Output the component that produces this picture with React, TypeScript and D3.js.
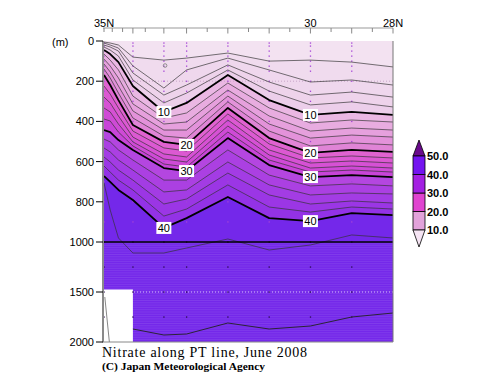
import React from "react";
import * as d3 from "d3";

// Station latitudes (°N) at which isoline depths were read
const stationLats = [35, 34.85, 34.65, 34.3, 33.55, 33, 32, 31, 30, 29, 28];

// Depth (m) of each nitrate isoline (µmol/kg) at the stations
const iso02 = [5, 10, 20, 80, 95, 85, 60, 100, 95, 105, 129];
const iso04 = [10, 20, 35, 124, 234, 144, 85, 144, 204, 194, 219];
const iso06 = [20, 30, 50, 159, 269, 219, 119, 204, 269, 254, 279];
const iso08 = [30, 45, 75, 194, 308, 259, 144, 249, 318, 303, 328];
const iso10 = [45, 65, 105, 224, 353, 308, 169, 294, 368, 353, 368];
const iso12 = [65, 95, 144, 274, 383, 358, 209, 333, 408, 393, 403];
const iso14 = [90, 124, 184, 313, 413, 403, 244, 373, 448, 433, 443];
const iso16 = [114, 154, 224, 348, 443, 443, 274, 413, 483, 468, 478];
const iso18 = [139, 184, 259, 383, 473, 483, 303, 448, 522, 507, 517];
const iso20 = [169, 219, 294, 418, 502, 517, 333, 483, 557, 542, 552];
const iso22 = [224, 264, 333, 448, 532, 547, 363, 512, 582, 572, 582];
const iso24 = [279, 308, 373, 478, 562, 577, 393, 542, 607, 597, 607];
const iso26 = [333, 353, 413, 502, 587, 602, 423, 567, 632, 622, 632];
const iso28 = [388, 398, 453, 522, 612, 627, 453, 592, 652, 642, 652];
const iso30 = [443, 453, 493, 542, 632, 647, 483, 617, 677, 667, 677];
const iso32 = [488, 502, 542, 592, 692, 692, 542, 667, 721, 711, 721];
const iso34 = [532, 552, 592, 642, 751, 741, 602, 716, 766, 756, 761];
const iso36 = [577, 602, 642, 692, 811, 786, 657, 766, 811, 796, 806];
const iso38 = [622, 652, 692, 741, 871, 836, 716, 826, 851, 826, 836];
const iso40 = [672, 701, 741, 791, 930, 881, 776, 881, 896, 856, 866];
const iso42 = [706, 841, 980, 1110, 1110, 1060, 985, 1080, 1030, 965, 980];

// Deep isoline (below 1000 m)
const deepLats = [34.3, 33.55, 33, 32, 31, 30, 29, 28];
const deepDepths = [1870, 1930, 1920, 1810, 1870, 1840, 1750, 1710];

// No-data area and the grey line inside it
const maskLats = [35, 34.3];
const maskDepths = [1475, 2000];
const maskLineLats = [34.98, 34.87];
const maskLineDepths = [1550, 2000];

// small closed contour
const localMinLat = 33.52;
const localMinDepth = 122;

// axis ticks
const latTicksMajor = [34.3, 33.55, 33, 32, 31, 30, 29, 28];
const latTicksMinor = [35, 34.8, 34.55, 34, 32.5, 31.5, 30.5, 29.5, 28.5];
const latLabelValues = [35, 30, 28];
const latLabelTexts = ["35N", "30", "28N"];
const depthTicks = [0, 200, 400, 600, 800, 1000, 1500, 2000];

// legend
const legendLevels = [10, 20, 30, 40, 50];
const legendColors = ["#e2a2da", "#e044d0", "#a420e2", "#7414f0"];
const legendLowColor = "#f5e4f3";
const legendHighColor = "#6a0a8c";

// sampling points
const sampleLats = [35, 34.3, 33.55, 33, 32, 31, 30, 29];
const sampleDepths = [10, 25, 50, 75, 100, 125, 150, 200, 250, 300, 400, 500, 600, 700, 800, 900, 1000, 1250, 1500, 1750];

// contour labels
const labelLevels = [10, 10, 20, 20, 30, 30, 40, 40];
const labelLats = [33.55, 30, 33, 30, 33, 30, 33.55, 30];

// fill colour of each 2-unit band (0-2, 2-4, ... 40-42, 42+)
const bandFill = [
  "#f3e2f1", "#f0dbee", "#efd7ed", "#eed3eb", "#ecceea",
  "#eab7e3", "#e8ace0", "#e6a0dd", "#e392da", "#e084d6",
  "#e062d0", "#dc59d2", "#d651d4", "#cf4ad6", "#c844d8",
  "#b446e0", "#ab40e2", "#a33ce4", "#9b36e5", "#9332e6",
  "#7428ea", "#7428ea",
];

const isolines = [
  { level: 2, depths: iso02 }, { level: 4, depths: iso04 }, { level: 6, depths: iso06 },
  { level: 8, depths: iso08 }, { level: 10, depths: iso10 }, { level: 12, depths: iso12 },
  { level: 14, depths: iso14 }, { level: 16, depths: iso16 }, { level: 18, depths: iso18 },
  { level: 20, depths: iso20 }, { level: 22, depths: iso22 }, { level: 24, depths: iso24 },
  { level: 26, depths: iso26 }, { level: 28, depths: iso28 }, { level: 30, depths: iso30 },
  { level: 32, depths: iso32 }, { level: 34, depths: iso34 }, { level: 36, depths: iso36 },
  { level: 38, depths: iso38 }, { level: 40, depths: iso40 }, { level: 42, depths: iso42 },
];

const X0 = 104, X1 = 393, Y0 = 41, Y1000 = 242, Y1 = 342;

export default function App() {
  const x = d3.scaleLinear().domain([35, 28]).range([X0, X1]);
  const y = d3.scaleLinear().domain([0, 1000, 2000]).range([Y0, Y1000, Y1]);

  const areaFor = (depths: number[]) =>
    d3.area<number>()
      .x((_, i) => x(stationLats[i]))
      .y0((d) => y(d))
      .y1(y(2000))(depths) || "";
  const lineFor = (lats: number[], depths: number[]) =>
    d3.line<number>().x((_, i) => x(lats[i])).y((d) => y(d))(depths) || "";

  const leg = d3.scaleLinear().domain([10, 50]).range([230, 156]);
  const lx0 = 413, lx1 = 425;

  const sans = "'Liberation Sans', Arial, sans-serif";

  return (
    <svg width={500} height={387} style={{ position: "absolute", left: 0, top: 0, background: "#fff" }}
      fontFamily={sans}>
      <defs>
        <clipPath id="plot">
          <rect x={X0} y={Y0} width={X1 - X0} height={Y1 - Y0} />
        </clipPath>
      </defs>
      <g clipPath="url(#plot)">
        <rect x={X0} y={Y0} width={X1 - X0} height={Y1 - Y0} fill={bandFill[0]} />
        {isolines.map((iso, i) => (
          <path key={"a" + iso.level} d={areaFor(iso.depths)} fill={bandFill[i + 1]} />
        ))}
        {/* faint horizontal stripes in the deep part */}
        {d3.range(1010, 2000, 23).map((d) => (
          <line key={"s" + d} x1={X0} x2={X1} y1={y(d)} y2={y(d)} stroke="#ffffff" strokeOpacity={0.09} strokeWidth={1} />
        ))}
        {/* no-data area */}
        <rect x={x(maskLats[0])} y={y(maskDepths[0])} width={x(maskLats[1]) - x(maskLats[0])}
          height={y(maskDepths[1]) - y(maskDepths[0])} fill="#ffffff" />
        <path d={lineFor(maskLineLats, maskLineDepths)} fill="none" stroke="#888" strokeWidth={1} />
        {/* grid dotted lines */}
        <line x1={X0} x2={X1} y1={y(200)} y2={y(200)} stroke="#c9a6c9" strokeDasharray="1,2" strokeWidth={1} />
        <line x1={X0} x2={X1} y1={y(1500)} y2={y(1500)} stroke="#ffffff" strokeOpacity={0.7} strokeDasharray="1,2" strokeWidth={1} />
        {/* sampling points */}
        {sampleLats.map((la) =>
          sampleDepths.map((dp) => (
            <rect key={la + "-" + dp} x={x(la) - 0.6} y={y(dp) - 0.6} width={1.3} height={1.3}
              fill={dp >= 1000 ? "#2a0a50" : "#a444d6"} />
          ))
        )}
        {/* contour lines */}
        {isolines.map((iso) => {
          const thick = iso.level % 10 === 0;
          return (
            <path key={"l" + iso.level} d={lineFor(stationLats, iso.depths)} fill="none"
              stroke={thick ? "#000" : "#333"} strokeOpacity={thick ? 1 : 0.85}
              strokeWidth={thick ? 1.8 : 0.8} strokeLinejoin="round" />
          );
        })}
        <path d={lineFor(deepLats, deepDepths)} fill="none" stroke="#222" strokeWidth={0.9} />
        <circle cx={x(localMinLat)} cy={y(localMinDepth)} r={1.8} fill="none" stroke="#777" strokeWidth={0.8} />
        {/* 1000 m break line */}
        <line x1={X0} x2={X1} y1={y(1000)} y2={y(1000)} stroke="#000" strokeWidth={1.5} />
      </g>

      {/* contour labels */}
      {labelLevels.map((lv, i) => {
        const iso = isolines.find((d) => d.level === lv)!;
        const dp = d3.scaleLinear().domain(stationLats).range(iso.depths)(labelLats[i]);
        const cx = x(labelLats[i]);
        const cy = y(dp);
        return (
          <g key={"cl" + i}>
            <rect x={cx - 7.5} y={cy - 6} width={15} height={12} fill="#fff" />
            <text x={cx} y={cy + 4} fontSize={11} textAnchor="middle" fill="#000">{lv}</text>
          </g>
        );
      })}

      {/* frame */}
      <line x1={X1} x2={X1} y1={Y0} y2={Y1} stroke="#777" strokeWidth={1} />
      <line x1={X0 - 2} x2={X1} y1={Y1} y2={Y1} stroke="#888" strokeWidth={1} />
      <line x1={X0 - 1} x2={X0 - 1} y1={Y0} y2={Y1} stroke="#8a8a8a" strokeWidth={2} />

      {/* top axis */}
      <line x1={X0 - 1} x2={X1} y1={28} y2={28} stroke="#999" strokeWidth={1} />
      {latTicksMajor.map((t) => (
        <line key={"tM" + t} x1={x(t)} x2={x(t)} y1={28} y2={33.5} stroke="#888" strokeWidth={1} />
      ))}
      {latTicksMinor.map((t) => (
        <line key={"tm" + t} x1={x(t)} x2={x(t)} y1={28} y2={32} stroke="#888" strokeWidth={1} />
      ))}
      {latLabelValues.map((t, i) => (
        <text key={"tl" + t} x={x(t)} y={26.5} fontSize={11} textAnchor="middle" fill="#000">
          {latLabelTexts[i]}
        </text>
      ))}

      {/* left axis */}
      {depthTicks.map((d) => (
        <g key={"d" + d}>
          <line x1={96} x2={X0 - 1} y1={y(d)} y2={y(d)} stroke="#000" strokeWidth={1} />
          <text x={94} y={y(d) + 4} fontSize={11} textAnchor="end" fill="#000">{d}</text>
        </g>
      ))}
      <text x={52} y={46} fontSize={11} fill="#000">(m)</text>

      {/* legend */}
      <path d={`M${lx0},${leg(50)} L${(lx0 + lx1) / 2},${leg(50) - 16} L${lx1},${leg(50)} Z`}
        fill={legendHighColor} stroke="#000" strokeWidth={0.8} />
      {legendColors.map((c, i) => (
        <rect key={"lg" + i} x={lx0} y={leg(legendLevels[i + 1])} width={lx1 - lx0}
          height={leg(legendLevels[i]) - leg(legendLevels[i + 1])} fill={c} stroke="#000" strokeWidth={0.8} />
      ))}
      <path d={`M${lx0},${leg(10)} L${(lx0 + lx1) / 2},${leg(10) + 17} L${lx1},${leg(10)} Z`}
        fill={legendLowColor} stroke="#000" strokeWidth={0.8} />
      {legendLevels.map((l) => (
        <text key={"ll" + l} x={427} y={leg(l) + 4} fontSize={11} fontWeight="bold" fill="#000">
          {l.toFixed(1)}
        </text>
      ))}

      {/* titles */}
      <text x={102} y={357} fontSize={14} fontFamily="'Liberation Serif', serif" textLength={205}
        lengthAdjust="spacing" fill="#000">Nitrate along PT line, June 2008</text>
      <text x={102} y={370} fontSize={11} fontWeight="bold" fontFamily="'Liberation Serif', serif"
        textLength={163} lengthAdjust="spacingAndGlyphs" fill="#000">(C) Japan Meteorological Agency</text>
    </svg>
  );
}
